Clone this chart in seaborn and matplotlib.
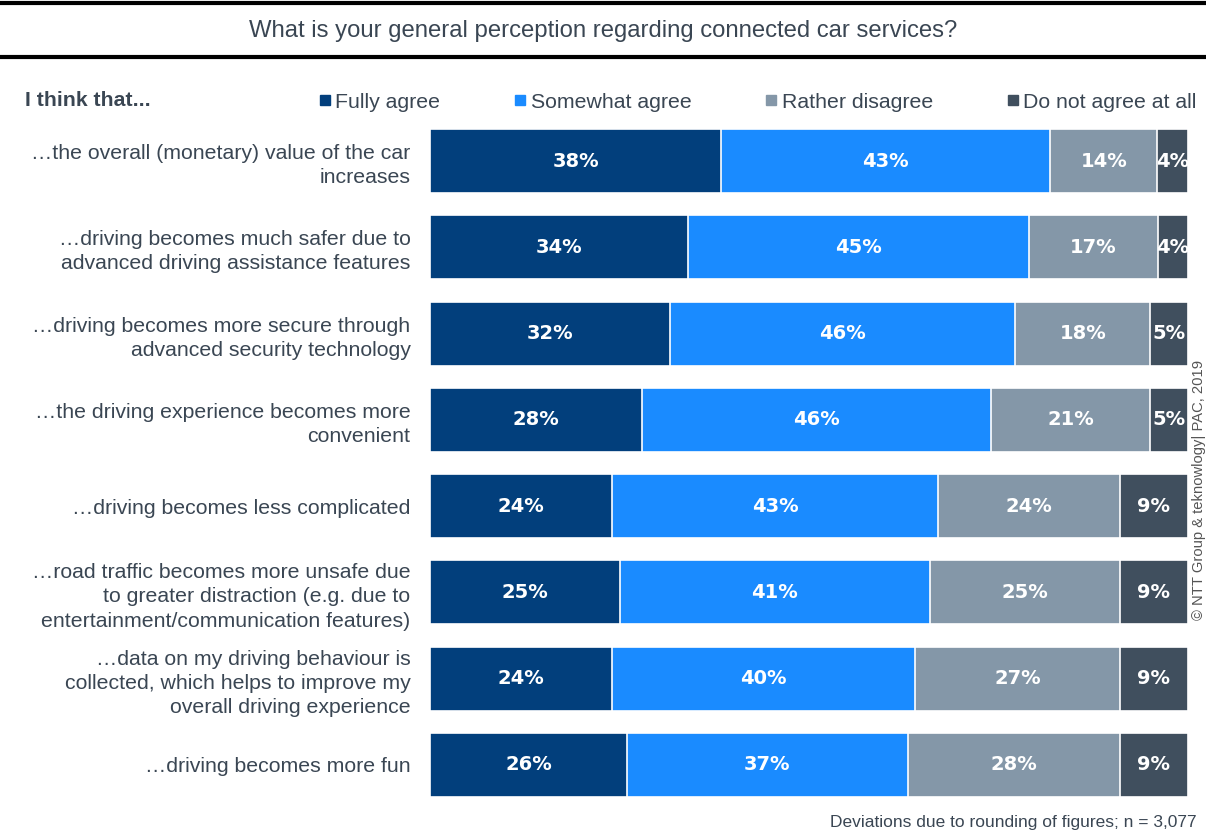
import numpy as np
import pandas as pd
import matplotlib
matplotlib.use("Agg")
import matplotlib.pyplot as plt
import seaborn as sns
from matplotlib.lines import Line2D

# data
statements = [
    "…the overall (monetary) value of the car\nincreases",
    "…driving becomes much safer due to\nadvanced driving assistance features",
    "…driving becomes more secure through\nadvanced security technology",
    "…the driving experience becomes more\nconvenient",
    "…driving becomes less complicated",
    "…road traffic becomes more unsafe due\nto greater distraction (e.g. due to\nentertainment/communication features)",
    "…data on my driving behaviour is\ncollected, which helps to improve my\noverall driving experience",
    "…driving becomes more fun",
]
answers = ["Fully agree", "Somewhat agree", "Rather disagree", "Do not agree at all"]
fully_agree = [38, 34, 32, 28, 24, 25, 24, 26]
somewhat_agree = [43, 45, 46, 46, 43, 41, 40, 37]
rather_disagree = [14, 17, 18, 21, 24, 25, 27, 28]
not_at_all = [4, 4, 5, 5, 9, 9, 9, 9]
colors = ["#023f7c", "#1a8bff", "#8497a8", "#404f5e"]

df = pd.DataFrame({"statement": statements, answers[0]: fully_agree,
                   answers[1]: somewhat_agree, answers[2]: rather_disagree,
                   answers[3]: not_at_all})
# the published shares are rounded, bars are drawn on a 100% basis
shares = df[answers].div(df[answers].sum(axis=1), axis=0) * 100
cum = shares.cumsum(axis=1)

sns.set_style("white")
plt.rcParams["font.family"] = ["Liberation Sans", "DejaVu Sans"]
text_col = "#3a4653"

fig = plt.figure(figsize=(12.06, 8.31), dpi=100)
ax = fig.add_axes([0.3566, 0.0277, 0.6284, 0.8303])

# stacked bars: draw cumulative totals from the last answer to the first
for i in range(len(answers) - 1, -1, -1):
    plot_df = pd.DataFrame({"statement": statements, "value": cum[answers[i]].values})
    sns.barplot(data=plot_df, x="value", y="statement", orient="h", color=colors[i],
                saturation=1, width=0.74, edgecolor="white", linewidth=1.2, ax=ax)

for r in range(len(statements)):
    for i, a in enumerate(answers):
        left = cum[a].iloc[r] - shares[a].iloc[r]
        ax.text(left + shares[a].iloc[r] / 2, r, f"{df[a].iloc[r]}%", ha="center",
                va="center", color="white", fontsize=14, fontweight="bold",
                family=["DejaVu Sans"])

ax.set_xlim(0, 100)
ax.set_ylim(len(statements) - 0.5, -0.5)
ax.set_xlabel("")
ax.set_ylabel("")
ax.set_xticks([])
ax.set_yticks(range(len(statements)))
ax.set_yticklabels(statements, fontsize=15.3, color=text_col, linespacing=1.34)
ax.tick_params(axis="y", length=0, pad=14)
sns.despine(ax=ax, left=True, bottom=True)

# header rules and title
fig.add_artist(Line2D([0, 1], [1 - 3 / 831, 1 - 3 / 831], color="black", lw=3))
fig.add_artist(Line2D([0, 1], [1 - 57 / 831, 1 - 57 / 831], color="black", lw=3))
fig.text(0.5, 1 - 31 / 831, "What is your general perception regarding connected car services?",
         ha="center", va="center", fontsize=17.2, color=text_col)
fig.text(25 / 1206, 1 - 100 / 831, "I think that...", ha="left", va="center",
         fontsize=15.3, fontweight="bold", color=text_col)

handles = [Line2D([], [], marker="s", linestyle="none", markersize=7, color=c) for c in colors]
fig.legend(handles, answers, ncol=4, loc="center right", bbox_to_anchor=(1.008, 1 - 102 / 831),
           frameon=False, fontsize=15.3, handlelength=0.55, handletextpad=0.2,
           columnspacing=3.5, labelcolor=text_col)

fig.text(1197 / 1206, 1 - 822 / 831, "Deviations due to rounding of figures; n = 3,077",
         ha="right", va="center", fontsize=12.5, color=text_col)
fig.text(1192 / 1206, 1 - 490 / 831, "© NTT Group & teknowlogy| PAC, 2019", rotation=90,
         ha="left", va="center", fontsize=10.6, color="#555555")

fig.savefig("out.png", dpi=100)
